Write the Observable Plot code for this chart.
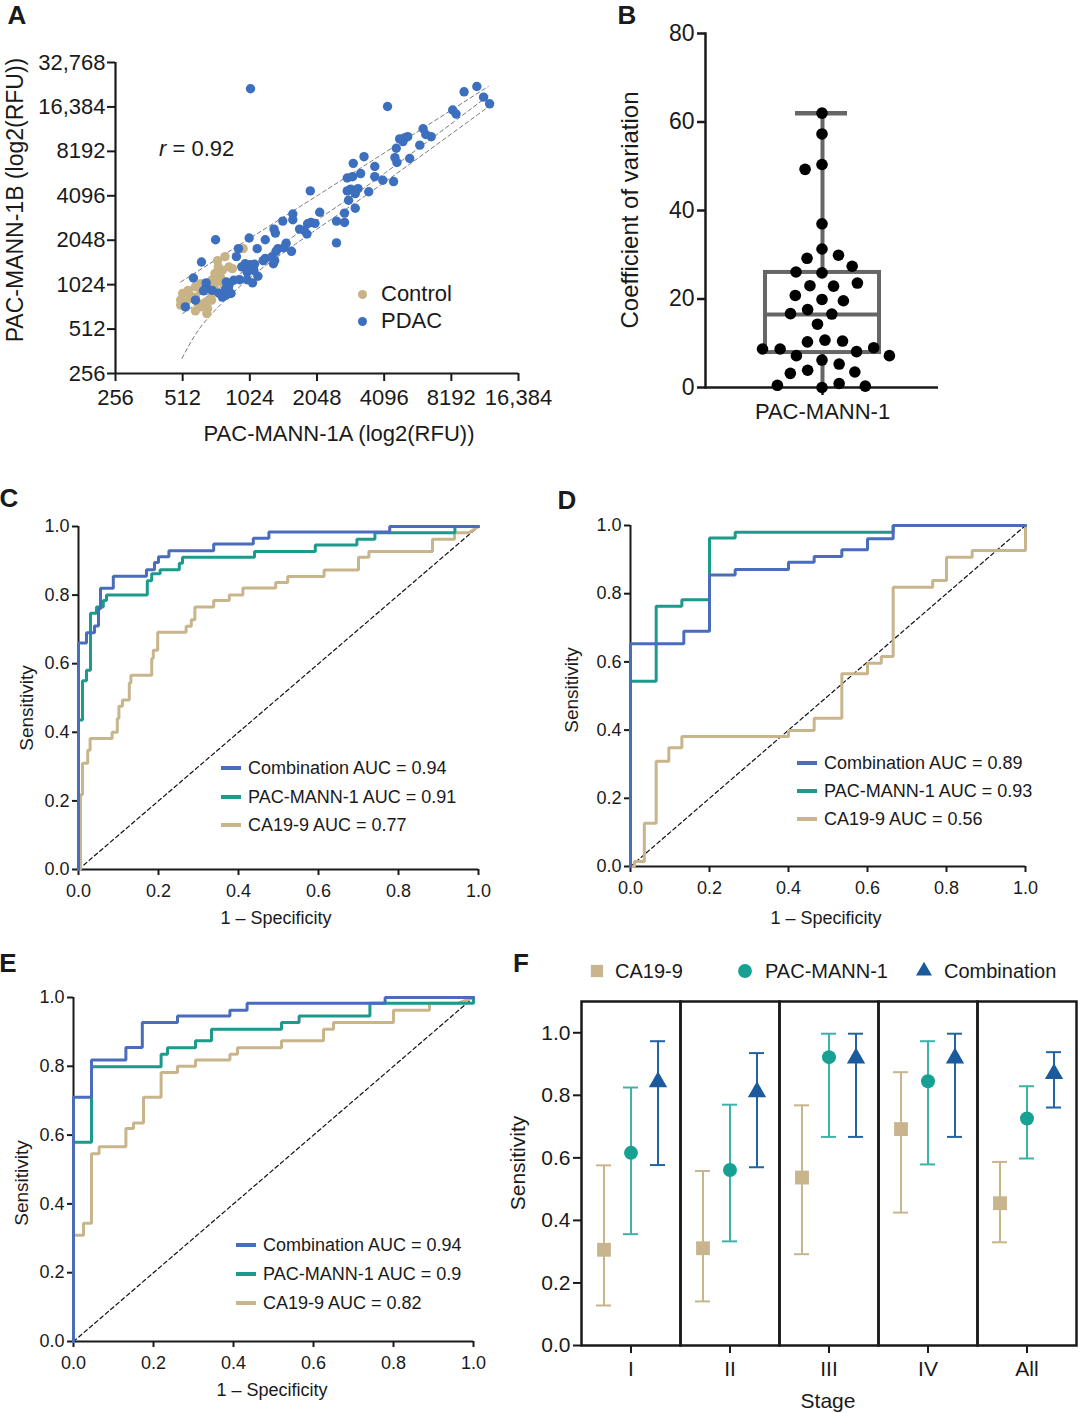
<!DOCTYPE html>
<html><head><meta charset="utf-8">
<script src="https://cdn.jsdelivr.net/npm/d3@7"></script>
<script src="https://cdn.jsdelivr.net/npm/@observablehq/plot@0.6"></script>
<style>
body{margin:0;background:#fff;}
#fig{position:relative;width:1080px;height:1413px;font-family:"Liberation Sans",Arial,Helvetica,sans-serif;color:#1a1a1a;overflow:hidden;background:#fff}
#fig svg{overflow:visible}
</style></head><body><div id="fig"></div>
<script>
// ---------------- DATA ----------------
// Panel A: log2(RFU) pairs [PAC-MANN-1A, PAC-MANN-1B]
const controlPts = [[9.90,10.81],[9.63,10.63],[9.52,10.54],[9.69,10.40],[9.74,10.36],[9.59,10.32],[9.48,10.25],[9.56,10.17],[9.43,10.10],[9.48,10.02],[9.37,9.99],[9.19,9.95],[9.27,9.87],[9.08,9.87],[9.00,9.80],[9.11,9.76],[9.19,9.72],[8.97,9.65],[9.05,9.61],[9.24,9.57],[9.35,9.61],[9.43,9.65],[8.97,9.54],[9.27,9.50],[9.37,9.46],[9.19,9.41],[9.36,9.35],[9.56,10.10],[9.61,10.02],[9.47,9.91],[9.27,10.02],[9.53,10.40],[9.43,9.80],[9.13,9.69]];
const pdacPts = [[10.01,14.41],[13.38,14.46],[13.19,14.34],[13.48,14.22],[13.57,14.07],[12.05,14.01],[13.02,13.93],[13.07,13.84],[12.58,13.51],[12.70,13.33],[12.62,13.38],[12.23,13.28],[12.31,13.31],[12.35,13.33],[12.28,13.22],[12.53,13.14],[12.18,13.07],[11.70,12.88],[12.16,12.86],[12.19,12.75],[12.38,12.84],[11.54,12.73],[11.86,12.66],[11.98,12.35],[12.14,12.32],[11.86,12.43],[11.65,12.50],[11.45,12.40],[11.53,12.43],[10.90,12.11],[11.45,12.11],[11.50,12.15],[11.61,12.16],[11.57,12.05],[11.77,12.09],[11.47,11.90],[11.57,11.72],[11.41,11.61],[11.04,11.63],[11.29,11.43],[11.41,11.40],[10.91,11.40],[10.86,11.37],[10.97,11.38],[10.81,11.22],[10.85,11.14],[10.74,11.25],[11.29,10.94],[10.64,11.59],[10.64,11.46],[10.49,11.43],[10.36,11.25],[10.38,11.16],[10.23,11.01],[10.11,10.81],[10.54,10.93],[10.51,10.83],[10.62,10.75],[10.42,10.81],[10.39,10.75],[10.33,10.62],[10.23,10.59],[10.20,10.54],[10.35,10.47],[10.37,10.54],[9.99,11.05],[9.83,10.81],[9.80,10.63],[9.49,11.01],[9.28,10.51],[9.16,10.15],[9.93,10.47],[10.01,10.45],[10.07,10.46],[9.88,10.40],[9.96,10.28],[10.06,10.32],[9.85,10.11],[9.96,10.11],[10.04,10.04],[10.12,10.19],[9.76,10.10],[9.65,10.06],[9.68,9.93],[9.69,9.99],[9.35,10.04],[9.35,9.95],[9.31,9.86],[9.44,9.87],[9.72,9.80],[9.64,9.76],[9.59,9.72],[9.19,9.65],[9.04,9.50],[9.64,9.90],[9.54,9.81]];
const fitUpper = [[8.97,10.06],[11.0,12.0],[13.55,14.46]];
const fitMid = [[9.0,9.35],[10.0,10.4],[11.0,11.45],[12.0,12.5],[13.55,14.25]];
const fitLower = [[8.99,8.34],[9.2,8.9],[9.5,9.45],[10.0,10.15],[10.5,10.72],[11.0,11.25],[12.0,12.3],[13.55,14.0]];
const aTicks = [8,9,10,11,12,13,14,15];
const aTickLabels = ["256","512","1024","2048","4096","8192","16,384","32,768"];

// Panel B: coefficient of variation
const cvValues = [62,57.3,50.4,49.3,37.0,31.3,29.2,29.9,27.4,25.9,26.1,23.0,22.9,23.6,20.8,19.9,19.6,17.6,16.6,16.7,14.3,10.7,10.3,10.5,7.2,8.1,8.7,9.0,8.7,7.2,6.2,5.3,3.9,3.2,3.5,0,0.9,0.3,0.5];
const bCategory = ["PAC-MANN-1"];
const bBox = [{cat:"PAC-MANN-1", min:0, q1:7.9, median:16.5, q3:26.0, max:62}];
const bTicks = [0,20,40,60,80];

// ROC curves [1 - specificity, sensitivity]
const rocTicks = [0,0.2,0.4,0.6,0.8,1.0];
const rocNames = ["Combination","PAC-MANN-1","CA19-9"];
const cComb = [[0,0],[0,0.66],[0.02,0.66],[0.02,0.69],[0.04,0.69],[0.04,0.71],[0.05,0.71],[0.05,0.76],[0.055,0.76],[0.055,0.82],[0.087,0.82],[0.087,0.855],[0.17,0.855],[0.17,0.874],[0.19,0.874],[0.19,0.895],[0.2,0.895],[0.2,0.912],[0.226,0.912],[0.226,0.929],[0.338,0.929],[0.338,0.949],[0.437,0.949],[0.437,0.966],[0.476,0.966],[0.476,0.984],[0.778,0.984],[0.778,1],[1,1]];
const cPac = [[0,0],[0,0.436],[0.01,0.436],[0.01,0.55],[0.02,0.55],[0.02,0.581],[0.03,0.581],[0.03,0.747],[0.045,0.747],[0.045,0.765],[0.062,0.765],[0.062,0.784],[0.07,0.784],[0.07,0.80],[0.172,0.80],[0.172,0.842],[0.183,0.842],[0.183,0.862],[0.204,0.862],[0.204,0.874],[0.252,0.874],[0.252,0.893],[0.26,0.893],[0.26,0.91],[0.44,0.91],[0.44,0.927],[0.592,0.927],[0.592,0.946],[0.696,0.946],[0.696,0.963],[0.741,0.963],[0.741,0.982],[0.941,0.982],[0.941,1],[1,1]];
const cCa = [[0,0],[0.005,0],[0.005,0.218],[0.01,0.218],[0.01,0.31],[0.023,0.31],[0.023,0.348],[0.029,0.348],[0.029,0.382],[0.084,0.382],[0.084,0.40],[0.097,0.40],[0.097,0.44],[0.101,0.44],[0.101,0.476],[0.11,0.476],[0.11,0.494],[0.127,0.494],[0.127,0.544],[0.131,0.544],[0.131,0.566],[0.183,0.566],[0.183,0.615],[0.187,0.615],[0.187,0.639],[0.198,0.639],[0.198,0.692],[0.269,0.692],[0.269,0.709],[0.282,0.709],[0.282,0.728],[0.291,0.728],[0.291,0.765],[0.338,0.765],[0.338,0.784],[0.377,0.784],[0.377,0.80],[0.411,0.80],[0.411,0.821],[0.493,0.821],[0.493,0.837],[0.523,0.837],[0.523,0.854],[0.614,0.854],[0.614,0.873],[0.7,0.873],[0.7,0.91],[0.726,0.91],[0.726,0.927],[0.885,0.927],[0.885,0.963],[0.94,0.963],[0.94,0.982],[0.976,0.982],[1,1]];
const cAuc = ["0.94","0.91","0.77"];
const dComb = [[0,0],[0,0.653],[0.135,0.653],[0.135,0.69],[0.2,0.69],[0.2,0.855],[0.265,0.855],[0.265,0.871],[0.4,0.871],[0.4,0.892],[0.465,0.892],[0.465,0.909],[0.535,0.909],[0.535,0.929],[0.6,0.929],[0.6,0.961],[0.665,0.961],[0.665,1],[1,1]];
const dPac = [[0,0],[0,0.543],[0.065,0.543],[0.065,0.763],[0.13,0.763],[0.13,0.782],[0.2,0.782],[0.2,0.963],[0.265,0.963],[0.265,0.98],[0.665,0.98],[0.665,1],[1,1]];
const dCa = [[0,0],[0.01,0],[0.01,0.015],[0.035,0.015],[0.035,0.127],[0.065,0.127],[0.065,0.309],[0.097,0.309],[0.097,0.348],[0.13,0.348],[0.13,0.381],[0.4,0.381],[0.4,0.399],[0.465,0.399],[0.465,0.435],[0.535,0.435],[0.535,0.565],[0.6,0.565],[0.6,0.596],[0.635,0.596],[0.635,0.616],[0.665,0.616],[0.665,0.819],[0.765,0.819],[0.765,0.839],[0.8,0.839],[0.8,0.907],[0.865,0.907],[0.865,0.927],[1,0.927],[1,1]];
const dAuc = ["0.89","0.93","0.56"];
const eComb = [[0,0],[0,0.71],[0.045,0.71],[0.045,0.818],[0.131,0.818],[0.131,0.855],[0.172,0.855],[0.172,0.927],[0.26,0.927],[0.26,0.946],[0.391,0.946],[0.391,0.963],[0.434,0.963],[0.434,0.983],[0.779,0.983],[0.779,1],[1,1]];
const ePac = [[0,0],[0,0.579],[0.045,0.579],[0.045,0.799],[0.219,0.799],[0.219,0.835],[0.235,0.835],[0.235,0.854],[0.305,0.854],[0.305,0.874],[0.345,0.874],[0.345,0.908],[0.52,0.908],[0.52,0.927],[0.564,0.927],[0.564,0.946],[0.741,0.946],[0.741,0.983],[1,0.983],[1,1]];
const eCa = [[0,0],[0,0.309],[0.025,0.309],[0.025,0.344],[0.045,0.344],[0.045,0.546],[0.064,0.546],[0.064,0.566],[0.131,0.566],[0.131,0.619],[0.15,0.619],[0.15,0.635],[0.175,0.635],[0.175,0.71],[0.219,0.71],[0.219,0.782],[0.26,0.782],[0.26,0.80],[0.305,0.80],[0.305,0.818],[0.391,0.818],[0.391,0.835],[0.41,0.835],[0.41,0.854],[0.52,0.854],[0.52,0.874],[0.625,0.874],[0.625,0.908],[0.65,0.908],[0.65,0.927],[0.8,0.927],[0.8,0.963],[0.89,0.963],[0.89,0.983],[0.96,0.983],[1,1]];
const eAuc = ["0.94","0.9","0.82"];
const diagonal = [[0,0],[1,1]];

// Panel F: sensitivity by stage with 95% CI
const stages = ["I","II","III","IV","All"];
const fSeries = ["CA19-9","PAC-MANN-1","Combination"];
const caSens = [0.306,0.311,0.537,0.692,0.455];
const caLo   = [0.128,0.141,0.292,0.425,0.330];
const caHi   = [0.576,0.558,0.768,0.874,0.587];
const pacSens = [0.616,0.561,0.922,0.845,0.726];
const pacLo   = [0.356,0.333,0.667,0.579,0.598];
const pacHi   = [0.825,0.770,0.997,0.973,0.829];
const combSens = [0.843,0.811,0.919,0.919,0.869];
const combLo   = [0.577,0.570,0.667,0.667,0.761];
const combHi   = [0.973,0.935,0.997,0.997,0.938];
const fTicks = [0,0.2,0.4,0.6,0.8,1.0];

// ---------------- STYLE ----------------
const FONT = '"Liberation Sans", Arial, Helvetica, sans-serif';
const INK = "#1a1a1a";
const C = {sTan:"#C8B386", sBlue:"#3D6FBF", rBlue:"#4A6CBD", rTeal:"#1C9A8C", rTan:"#C9B58C",
           fTan:"#C8B58E", fTeal:"#17A194", fTealBar:"#3CB2A9", fBlue:"#1B5A9C", fBlueBar:"#2362A3"};
const fig = document.getElementById("fig");
function place(node, left, top){ node.style.position="absolute"; node.style.left=left+"px"; node.style.top=top+"px"; fig.appendChild(node); }
function text(s, x, y, size, o={}){
  const d=document.createElement("div");
  if(o.html) d.innerHTML=s; else d.textContent=s;
  d.style.cssText=`position:absolute;left:${x}px;top:${y}px;font-size:${size}px;line-height:1.15;white-space:nowrap;`+
   `font-weight:${o.bold?"bold":"normal"};transform:translate(${o.anchor==="start"?"0":"-50%"},-50%)${o.rotate?" rotate(-90deg)":""};`;
  fig.appendChild(d); return d;
}
const style = {fontFamily: FONT, color: INK, background: "transparent", overflow: "visible"};
const pX = d => d[0], pY = d => d[1];

// ---------------- PANEL A ----------------
const plotA = Plot.plot({
  width: 560, height: 460, marginLeft: 115, marginRight: 42, marginTop: 62, marginBottom: 87,
  style, x: {domain: [8, 14]}, y: {domain: [8, 15]},
  marks: [
    Plot.axisX({ticks: aTicks.slice(0,7), tickFormat: d => aTickLabels[aTicks.indexOf(d)], tickSize: 8, tickPadding: 8, fontSize: 22, strokeWidth: 2, label: null}),
    Plot.axisY({ticks: aTicks, tickFormat: d => aTickLabels[aTicks.indexOf(d)], tickSize: 8, tickPadding: 2, fontSize: 22, strokeWidth: 2, label: null}),
    Plot.ruleX([8], {stroke: INK, strokeWidth: 2.2}),
    Plot.ruleY([8], {stroke: INK, strokeWidth: 2.2}),
    Plot.line(fitUpper, {x: pX, y: pY, stroke: "#7a7a7a", strokeWidth: 1, strokeDasharray: "4,3", curve: "natural"}),
    Plot.line(fitMid, {x: pX, y: pY, stroke: "#7a7a7a", strokeWidth: 1, strokeDasharray: "4,3", curve: "natural"}),
    Plot.line(fitLower, {x: pX, y: pY, stroke: "#7a7a7a", strokeWidth: 1, strokeDasharray: "4,3", curve: "natural"}),
    Plot.dot(controlPts, {x: pX, y: pY, r: 4.7, fill: C.sTan}),
    Plot.dot(pdacPts, {x: pX, y: pY, r: 4.7, fill: C.sBlue})
  ]
});
place(plotA, 0, 0);
text("PAC-MANN-1A (log2(RFU))", 339, 434, 22);
text("PAC-MANN-1B (log2(RFU))", 15, 200, 23, {rotate: true});
text("<i>r</i> = 0.92", 159, 149, 22, {html: true, anchor: "start"});
[["Control", C.sTan, 294], ["PDAC", C.sBlue, 321]].forEach(([s, col, y]) => {
  const dot = document.createElement("div");
  dot.style.cssText = `position:absolute;left:${358}px;top:${y-4.5}px;width:9px;height:9px;border-radius:50%;background:${col}`;
  fig.appendChild(dot);
  text(s, 381, y, 22, {anchor: "start"});
});

// ---------------- PANEL B ----------------
const bW = 400, bML = 125, bMR = 42, bPad = 0.343;
const bBandHalf = ((bW - bML - bMR) / (1 + bPad)) * (1 - bPad) / 2; // Plot shifts band-scale marks by half a band
const plotB = Plot.plot({
  width: bW, height: 440, marginLeft: bML, marginRight: bMR, marginTop: 33, marginBottom: 53,
  style, x: {domain: bCategory, type: "band", paddingInner: bPad, paddingOuter: bPad}, y: {domain: [0, 80]},
  marks: [
    Plot.axisY({ticks: bTicks, tickSize: 8, tickPadding: 3, fontSize: 23, strokeWidth: 2.5, label: null}),
    Plot.axisX({tickSize: 8, tickPadding: 8, fontSize: 22, strokeWidth: 2.5, label: null}),
    Plot.ruleX(bBox, {x: "cat", y1: "q3", y2: "max", stroke: "#666", strokeWidth: 4}),
    Plot.ruleX(bBox, {x: "cat", y1: "min", y2: "q1", stroke: "#666", strokeWidth: 4}),
    Plot.barY(bBox, {x: "cat", y1: "q1", y2: "q3", fill: "none", stroke: "#666", strokeWidth: 4}),
    Plot.tickY(bBox, {x: "cat", y: "median", stroke: "#666", strokeWidth: 4}),
    Plot.tickY(bBox, {x: "cat", y: "max", stroke: "#666", strokeWidth: 4.5, insetLeft: 30, insetRight: 32}),
    Plot.frame({anchor: "left", stroke: INK, strokeWidth: 2.5}),
    Plot.ruleY([0], {stroke: INK, strokeWidth: 2.5}),
    Plot.dot(cvValues, Plot.dodgeX({anchor: "middle", padding: 6}, {y: d => d, r: 5.8, fill: "#000", dx: -bBandHalf}))
  ]
});
place(plotB, 580, 0);
text("Coefficient of variation", 630, 210, 24, {rotate: true});

// ---------------- ROC PANELS ----------------
function rocPlot(cfg){
  return Plot.plot({
    width: cfg.w, height: cfg.h, marginLeft: cfg.ml, marginRight: cfg.mr, marginTop: cfg.mt, marginBottom: cfg.mb,
    style, x: {domain: [0, 1]}, y: {domain: [0, 1]},
    marks: [
      Plot.axisX({ticks: rocTicks, tickFormat: d => d.toFixed(1), tickSize: 6, tickPadding: 9, fontSize: 18, strokeWidth: 2, label: null}),
      Plot.axisY({ticks: rocTicks, tickFormat: d => d.toFixed(1), tickSize: 6, tickPadding: 3, fontSize: 18, strokeWidth: 2, label: null}),
      Plot.ruleX([0], {stroke: INK, strokeWidth: 2}),
      Plot.ruleY([0], {stroke: INK, strokeWidth: 2}),
      Plot.line(diagonal, {x: pX, y: pY, stroke: "#111", strokeWidth: 1.2, strokeDasharray: "4,3"}),
      Plot.line(cfg.ca, {x: pX, y: pY, stroke: C.rTan, strokeWidth: 3, strokeLinejoin: "miter"}),
      Plot.line(cfg.pac, {x: pX, y: pY, stroke: C.rTeal, strokeWidth: 3, strokeLinejoin: "miter"}),
      Plot.line(cfg.comb, {x: pX, y: pY, stroke: C.rBlue, strokeWidth: 3, strokeLinejoin: "miter"})
    ]
  });
}
function rocLegend(auc, sx, tx, ys){
  const cols = [C.rBlue, C.rTeal, C.rTan];
  rocNames.forEach((n, i) => {
    const sw = document.createElement("div");
    sw.style.cssText = `position:absolute;left:${sx}px;top:${ys[i]-2}px;width:20px;height:4px;background:${cols[i]}`;
    fig.appendChild(sw);
    text(`${n} AUC = ${auc[i]}`, tx, ys[i], 18, {anchor: "start"});
  });
}
place(rocPlot({w: 540, h: 450, ml: 78, mr: 62, mt: 36, mb: 71, comb: cComb, pac: cPac, ca: cCa}), 0, 490);
text("Sensitivity", 27, 708, 19, {rotate: true});
text("1 \u2013 Specificity", 276, 918, 18);
rocLegend(cAuc, 221, 248, [768, 797, 825]);

place(rocPlot({w: 540, h: 450, ml: 90, mr: 55, mt: 35, mb: 74, comb: dComb, pac: dPac, ca: dCa}), 540, 490);
text("Sensitivity", 572, 690, 19, {rotate: true});
text("1 \u2013 Specificity", 826, 918, 18);
rocLegend(dAuc, 797, 824, [763, 791, 819]);

place(rocPlot({w: 540, h: 463, ml: 73, mr: 67, mt: 47, mb: 72, comb: eComb, pac: ePac, ca: eCa}), 0, 950);
text("Sensitivity", 22, 1183, 19, {rotate: true});
text("1 \u2013 Specificity", 272, 1390, 18);
rocLegend(eAuc, 236, 263, [1245, 1274, 1303]);

// ---------------- PANEL F ----------------
const fRows = [];
stages.forEach((s, i) => {
  fRows.push({stage: s, series: fSeries[0], v: caSens[i], lo: caLo[i], hi: caHi[i]});
  fRows.push({stage: s, series: fSeries[1], v: pacSens[i], lo: pacLo[i], hi: pacHi[i]});
  fRows.push({stage: s, series: fSeries[2], v: combSens[i], lo: combLo[i], hi: combHi[i]});
});
const barCol = {"CA19-9": C.fTan, "PAC-MANN-1": C.fTealBar, "Combination": C.fBlueBar};
const plotF = Plot.plot({
  width: 570, height: 463, marginLeft: 69, marginRight: 2, marginTop: 51, marginBottom: 68,
  style,
  fx: {domain: stages, padding: 0, label: null},
  x: {domain: fSeries, type: "band", paddingInner: 0.43, paddingOuter: 0.5, axis: null},
  y: {domain: [0, 1.1]},
  marks: [
    Plot.frame({stroke: INK, strokeWidth: 2.5}),
    Plot.axisY({ticks: fTicks, tickFormat: d => d.toFixed(1), tickSize: 8, tickPadding: 3, fontSize: 21, strokeWidth: 2, label: null}),
    Plot.axisFx({anchor: "bottom", tickSize: 8, tickPadding: 8, fontSize: 21, strokeWidth: 2, label: null}),
    Plot.ruleX(fRows, {fx: "stage", x: "series", y1: "lo", y2: "hi", stroke: d => barCol[d.series], strokeWidth: 2}),
    Plot.tickY(fRows, {fx: "stage", x: "series", y: "lo", stroke: d => barCol[d.series], strokeWidth: 2}),
    Plot.tickY(fRows, {fx: "stage", x: "series", y: "hi", stroke: d => barCol[d.series], strokeWidth: 2}),
    Plot.dot(fRows.filter(d => d.series === "CA19-9"), {fx: "stage", x: "series", y: "v", symbol: "square", r: 7.8, fill: C.fTan}),
    Plot.dot(fRows.filter(d => d.series === "PAC-MANN-1"), {fx: "stage", x: "series", y: "v", symbol: "circle", r: 7, fill: C.fTeal}),
    Plot.dot(fRows.filter(d => d.series === "Combination"), {fx: "stage", x: "series", y: "v", symbol: "triangle", r: 6.8, fill: C.fBlue})
  ]
});
place(plotF, 510, 950);
text("Sensitivity", 518, 1163, 21, {rotate: true});
text("Stage", 828, 1401, 21);
// legend F
const legF = [["CA19-9", C.fTan, "square", 597, 615], ["PAC-MANN-1", C.fTeal, "circle", 745, 765], ["Combination", C.fBlue, "triangle", 924, 944]];
legF.forEach(([s, col, shape, cx, tx]) => {
  const svg = d3.create("svg").attr("width", 18).attr("height", 18).style("position","absolute").style("left", (cx-9)+"px").style("top", (971-9)+"px");
  const sym = {square: d3.symbolSquare, circle: d3.symbolCircle, triangle: d3.symbolTriangle}[shape];
  svg.append("path").attr("transform", "translate(9,9)").attr("d", d3.symbol(sym, shape === "triangle" ? 110 : 150)()).attr("fill", col);
  fig.appendChild(svg.node());
  text(s, tx, 971, 20, {anchor: "start"});
});

// panel letters
[["A",17,16],["B",627,16],["C",9,499],["D",567,501],["E",8,964],["F",521,964]].forEach(([l,x,y]) => text(l, x, y, 26, {bold: true}));
</script></body></html>
